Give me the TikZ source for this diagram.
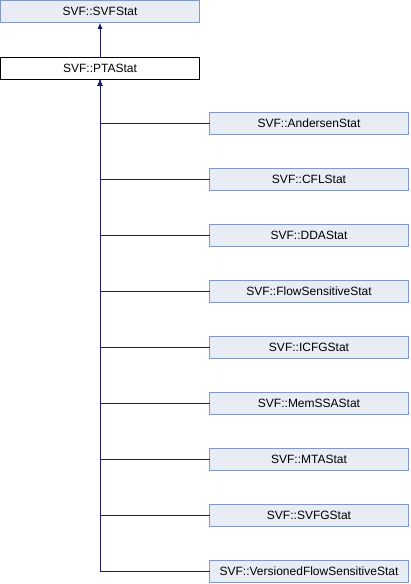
\documentclass[tikz,border=0pt]{standalone}
\usepackage{fontspec}
\setmainfont{Liberation Sans}
\usepackage{tikz}
\usetikzlibrary{arrows.meta, positioning}
\definecolor{boxfill}{HTML}{E8ECF4}
\definecolor{boxline}{HTML}{8498C8}
\definecolor{edgeblue}{HTML}{191970}
\tikzset{
  classbox/.style = {
    rectangle, draw=boxline, fill=boxfill, line width=1pt, outer sep=0pt,
    minimum width=199pt, minimum height=22.5pt, inner sep=0pt,
    text centered, font=\fontsize{12}{14}\selectfont
  },
  thisbox/.style = {classbox, draw=black, fill=white},
  inherit/.style = {-{Latex[length=6pt,width=5pt]}, draw=edgeblue, line width=1pt}
}

\begin{document}
\begin{tikzpicture}[x=1pt, y=1pt, node distance = 33.5pt]
\useasboundingbox (0,0) rectangle (410,-584);

% ----- BASE CLASSES -----
\node[classbox] (svfstat) at (100,-11.5) {SVF::SVFStat};
\node[thisbox,  below=34.5pt of svfstat]    (ptastat) {SVF::PTAStat};

% ----- DERIVED CLASSES -----
\node[classbox, below right=32.5pt and 10pt of ptastat.south east] (andersen) {SVF::AndersenStat};
\node[classbox, below=of andersen]  (cfl)       {SVF::CFLStat};
\node[classbox, below=of cfl]       (dda)       {SVF::DDAStat};
\node[classbox, below=of dda]       (flowsens)  {SVF::FlowSensitiveStat};
\node[classbox, below=of flowsens]  (icfg)      {SVF::ICFGStat};
\node[classbox, below=of icfg]      (memssa)    {SVF::MemSSAStat};
\node[classbox, below=of memssa]    (mta)       {SVF::MTAStat};
\node[classbox, below=of mta]       (svfg)      {SVF::SVFGStat};
\node[classbox, below=of svfg]      (versioned) {SVF::VersionedFlowSensitiveStat};

% ----- INHERITANCE -----
\draw[inherit] (ptastat) -- (svfstat);

% every derived class points back to PTAStat
\draw[inherit] (andersen.west)  -| (ptastat.south);
\draw[inherit] (cfl.west)       -| (ptastat.south);
\draw[inherit] (dda.west)       -| (ptastat.south);
\draw[inherit] (flowsens.west)  -| (ptastat.south);
\draw[inherit] (icfg.west)      -| (ptastat.south);
\draw[inherit] (memssa.west)    -| (ptastat.south);
\draw[inherit] (mta.west)       -| (ptastat.south);
\draw[inherit] (svfg.west)      -| (ptastat.south);
\draw[inherit] (versioned.west) -| (ptastat.south);

\end{tikzpicture}
\end{document}
